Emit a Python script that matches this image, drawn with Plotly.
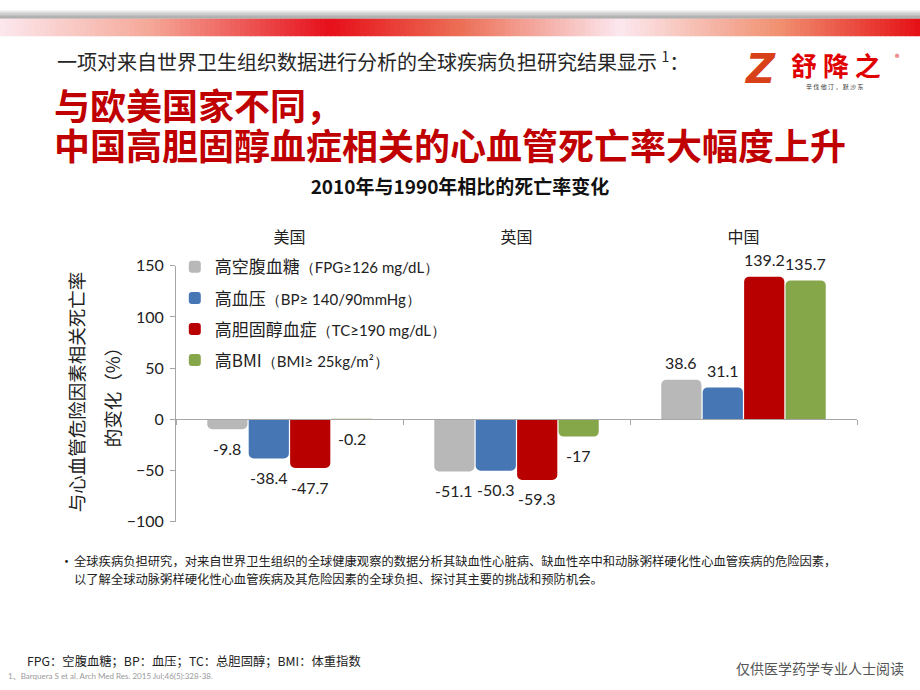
import plotly.graph_objects as go

# ---------------- data ----------------
countries = ["美国", "英国", "中国"]
fpg_change = [-9.8, -51.1, 38.6]
bp_change = [-38.4, -50.3, 31.1]
tc_change = [-47.7, -59.3, 139.2]
bmi_change = [-0.2, -17, 135.7]
y_tick_values = [-100, -50, 0, 50, 100, 150]

PAREN = 'font-size:15px;font-family:Lato'
series_names = [
    f'高空腹血糖<span style="{PAREN}">（FPG≥126 mg/dL）</span>',
    f'高血压<span style="{PAREN}">（BP≥ 140/90mmHg）</span>',
    f'高胆固醇血症<span style="{PAREN}">（TC≥190 mg/dL）</span>',
    f'高BMI<span style="{PAREN}">（BMI≥ 25kg/m²）</span>',
]
series_values = [fpg_change, bp_change, tc_change, bmi_change]
series_colors = ["#b8b8b8", "#4676b4", "#b80000", "#86a64a"]

FONT = "Lato, 'Noto Sans CJK SC', sans-serif"
CJK = "'Noto Sans CJK SC', sans-serif"
W, H = 920, 690
BARGAP, BARGROUPGAP = 0.27, 0.03

def px_x(x):
    return x / W

def px_y(y):
    return 1 - y / H

fig = go.Figure()
for i, (name, vals, col) in enumerate(zip(series_names, series_values, series_colors)):
    fig.add_trace(go.Bar(
        x=countries, y=vals, name=name,
        marker=dict(color=col, line=dict(width=0)),
        legendgroup=f"g{i}", xaxis="x", yaxis="y", hoverinfo="y",
    ))

# invisible helper trace for the category axis drawn at y = 0
fig.add_trace(go.Scatter(x=countries, y=[None] * len(countries), xaxis="x2", yaxis="y",
                         showlegend=False, hoverinfo="skip", mode="markers"))

plot_top, plot_bot = 263, 526
y_dom = [px_y(plot_bot), px_y(plot_top)]
zero_pos = y_dom[0] + (0 - (-100)) / 250 * (y_dom[1] - y_dom[0])

shapes = []
# top decorative banner: gray strip
grays = ["#f4f4f4", "#e8e8e8", "#dcdcdc", "#d0d0d0", "#c4c4c4", "#b4b4b4", "#a4a4a4", "#9a9a9a", "#a8a8a8"]
for k, c in enumerate(grays):
    shapes.append(dict(type="rect", xref="paper", yref="paper", x0=0, x1=1,
                       y0=px_y(k + 1), y1=px_y(k), fillcolor=c, line=dict(width=0), layer="below"))
# red gradient strip
stops = [(0, (252, 232, 238)), (150, (245, 168, 152)), (330, (230, 15, 26)), (460, (236, 110, 85)),
         (620, (252, 232, 239)), (780, (240, 144, 112)), (920, (229, 15, 21))]
def interp(x):
    for (xa, ca), (xb, cb) in zip(stops[:-1], stops[1:]):
        if xa <= x <= xb:
            t = (x - xa) / (xb - xa)
            return tuple(int(round(ca[j] + (cb[j] - ca[j]) * t)) for j in range(3))
    return stops[-1][1]
step = 5
for xs in range(0, W, step):
    r, g, b = interp(xs + step / 2)
    shapes.append(dict(type="rect", xref="paper", yref="paper", x0=px_x(xs), x1=px_x(xs + step + 0.5),
                       y0=px_y(27), y1=px_y(9), fillcolor=f"rgb({r},{g},{b})", line=dict(width=0), layer="below"))

annotations = []

# value labels placed on the bars through the axes' data scale
n_series = len(series_values)
slot = (1 - BARGAP) / n_series
for k, vals in enumerate(series_values):
    offset = -(1 - BARGAP) / 2 + slot * (k + 0.5)
    for ci, v in enumerate(vals):
        annotations.append(dict(
            text=f"{v:g}", x=ci + offset, y=v, xref="x", yref="y", showarrow=False,
            xanchor="center", yanchor="middle", yshift=17 if v >= 0 else -19,
            font=dict(size=16, color="#222222", family=FONT)))

def note(text, x, y, size, color="#222222", family=CJK, xanchor="left", yanchor="middle", angle=0, align="left"):
    annotations.append(dict(text=text, x=px_x(x), y=px_y(y), xref="paper", yref="paper",
                            xanchor=xanchor, yanchor=yanchor, showarrow=False, textangle=angle, align=align,
                            font=dict(size=size, color=color, family=family)))

note("一项对来自世界卫生组织数据进行分析的全球疾病负担研究结果显示 <sup>1</sup>：", 55, 52, 20, "#262626")
note("<b>与欧美国家不同，</b>", 52, 97, 36, "#c00000")
note("<b>中国高胆固醇血症相关的心血管死亡率大幅度上升</b>", 52, 138, 36, "#c00000")

# logo
note("<b><i>Z</i></b>", 760, 61, 40, "#d8401a", family="'DejaVu Sans', sans-serif", xanchor="center")
note("<b>舒 降 之</b>", 836, 56, 26, "#e00000", xanchor="center")
note("®", 897, 49, 9, "#e00000", xanchor="center")
note("辛 伐 他 汀 ， 默 沙 东", 834, 79, 6, "#333333", xanchor="center")

# y-axis title (two lines)
note("与心血管危险因素相关死亡率", 76, 393, 18.5, "#222222", xanchor="center", angle=-90)
note("的变化（%）", 112, 393, 18.5, "#222222", xanchor="center", angle=-90)

# footnotes
note("•", 58, 566, 13, "#222222")
note("全球疾病负担研究，对来自世界卫生组织的全球健康观察的数据分析其缺血性心脏病、缺血性卒中和动脉粥样硬化性心血管疾病的危险因素，",
     72, 566.5, 12.3, "#222222")
note("以了解全球动脉粥样硬化性心血管疾病及其危险因素的全球负担、探讨其主要的挑战和预防机会。", 72, 585.5, 12.3, "#222222")
note("FPG：空腹血糖；BP：血压；TC：总胆固醇；BMI：体重指数", 25, 669, 12.3, "#222222")
note("1、Barquera S et al. Arch Med Res. 2015 Jul;46(5):328-38.", 6, 685, 8, "#9a9a9a", family=FONT)
note("仅供医学药学专业人士阅读", 906, 677, 14, "#555555", xanchor="right")

fig.update_layout(
    width=W, height=H, margin=dict(l=0, r=0, t=0, b=0),
    paper_bgcolor="white", plot_bgcolor="rgba(0,0,0,0)",
    font=dict(family=FONT, color="#222222"),
    title=dict(text="<b>2010年与1990年相比的死亡率变化</b>", x=0.5, xanchor="center",
               y=px_y(187), yanchor="middle", font=dict(size=19, color="#111111", family=CJK)),
    barmode="group", bargap=BARGAP, bargroupgap=BARGROUPGAP, barcornerradius=5,
    xaxis=dict(domain=[px_x(176), px_x(857)], side="top", anchor="y", range=[-0.5, 2.5],
               showline=False, ticks="", showgrid=False, zeroline=False,
               tickfont=dict(size=16, family=CJK, color="#222222"), ticklabelstandoff=19),
    xaxis2=dict(overlaying="x", matches="x", anchor="free", position=zero_pos, side="bottom",
                showline=True, linecolor="#a6a6a6", linewidth=1, ticks="outside", ticklen=5,
                tickcolor="#a6a6a6", tickson="boundaries", showticklabels=False, showgrid=False,
                zeroline=False),
    yaxis=dict(domain=y_dom, range=[-100, 150], tickvals=y_tick_values,
               showline=True, linecolor="#a6a6a6", linewidth=1, ticks="outside", ticklen=5,
               tickcolor="#a6a6a6", showgrid=False, zeroline=False, ticklabelstandoff=3,
               tickfont=dict(size=16, color="#222222", family=FONT)),
    legend=dict(x=0.19, y=px_y(246), xanchor="left", yanchor="top", bgcolor="rgba(0,0,0,0)",
                font=dict(size=17, family=CJK, color="#222222"), tracegroupgap=6,
                itemclick=False),
    shapes=shapes, annotations=annotations, showlegend=True,
)

fig.write_html("out.html")
